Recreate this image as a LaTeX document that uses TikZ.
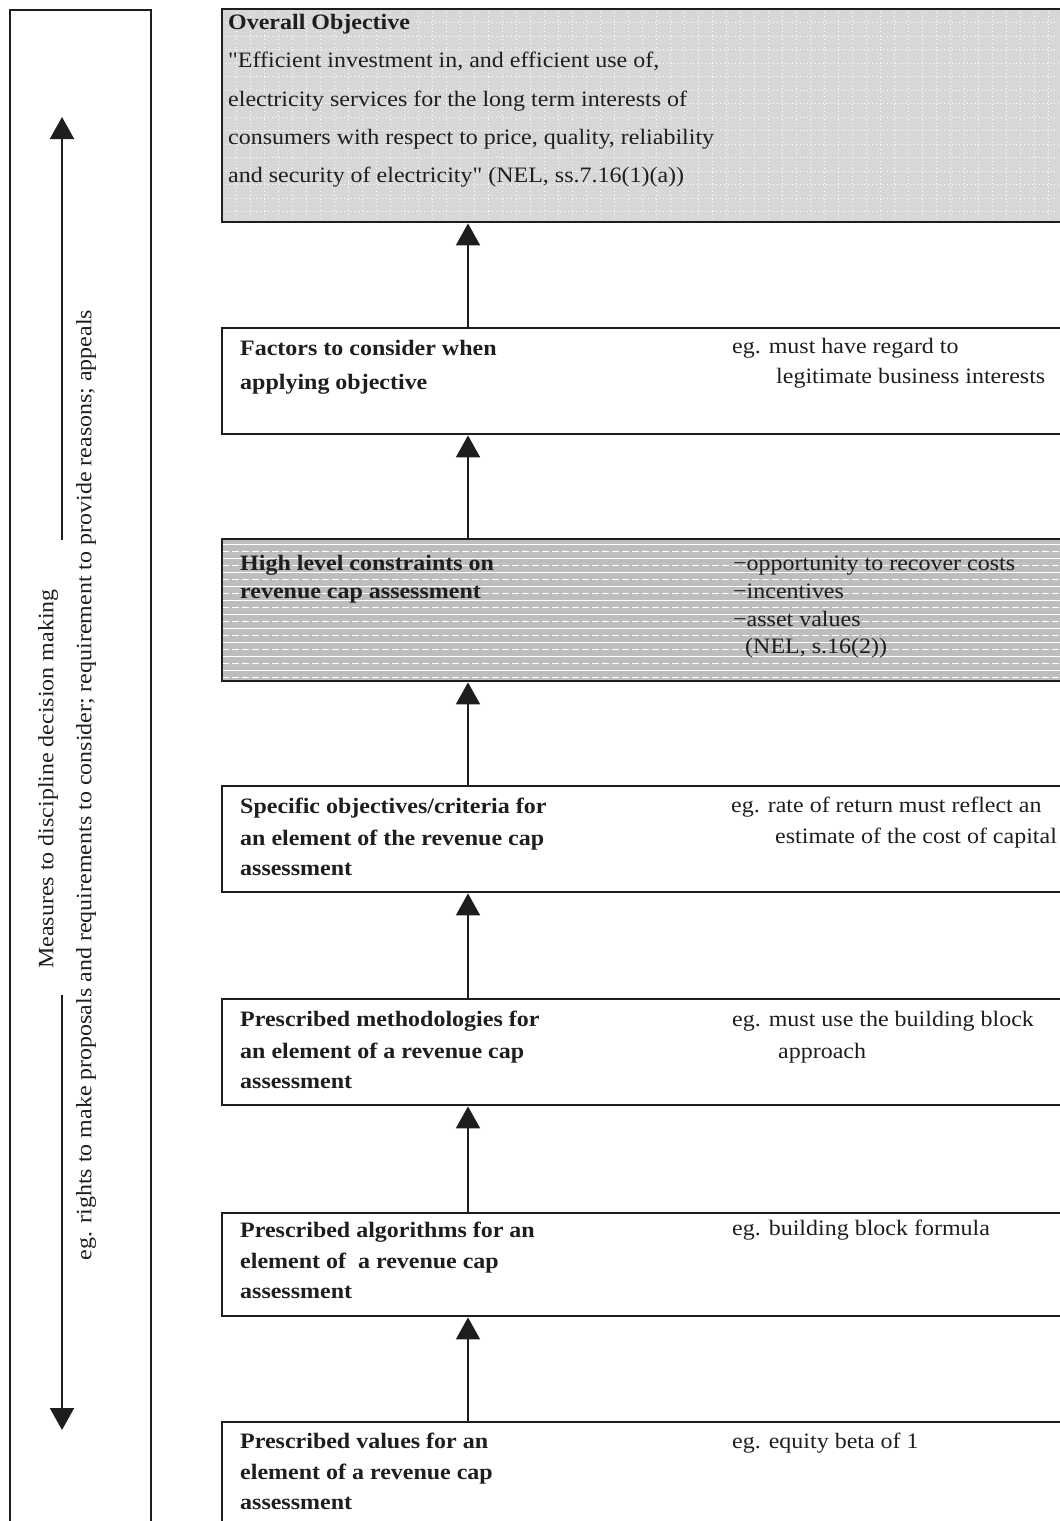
\documentclass[tikz,border=0pt]{standalone}
\usepackage{fontspec}
\setmainfont{Liberation Serif}[FakeStretch=1.09]
\newfontfamily\qfont{Liberation Serif}[FakeStretch=1.09, Ligatures=TeXOff]
\usetikzlibrary{arrows.meta}
\definecolor{ink}{HTML}{1E1E1E}
\definecolor{lightfill}{HTML}{D7D7D7}
\definecolor{midfill}{HTML}{BDBDBD}
\newcommand{\sq}{{\qfont"}}
\begin{document}
\begin{tikzpicture}[x=1pt,y=-1pt,
  every node/.style={font=\fontsize{22}{26}\selectfont, inner sep=0pt, text=ink},
  box/.style={draw=ink, line width=2.4pt, anchor=north west, minimum width=860pt},
  lbl/.style={anchor=base west},
  hd/.style={anchor=base west, font=\fontsize{22}{26}\selectfont\bfseries},
  arr/.style={draw=ink, line width=2pt, -{Triangle[width=24pt,length=22pt]}},
  ppdots/.style={path picture={
    \foreach \k in {1,...,62}{\draw[white, line width=0.6pt, dash pattern=on 0.8pt off 3pt]
      ([xshift=\k*14pt]path picture bounding box.south west) -- ([xshift=\k*14pt]path picture bounding box.north west);}
    \foreach \k in {1,...,16}{\draw[white, line width=0.6pt, dash pattern=on 0.8pt off 3pt]
      ([yshift=-\k*13.5pt]path picture bounding box.north west) -- ([yshift=-\k*13.5pt]path picture bounding box.north east);}
  }},
  pplines/.style={path picture={
    \foreach \k in {0,...,10}{\draw[white, line width=1.3pt]
      ([yshift=-\k*14pt-5pt]path picture bounding box.north west) -- ([yshift=-\k*14pt-5pt]path picture bounding box.north east);
      \draw[white, line width=1pt, dash pattern=on 7pt off 3pt]
      ([yshift=-\k*14pt-12pt]path picture bounding box.north west) -- ([yshift=-\k*14pt-12pt]path picture bounding box.north east);}
  }}]
\useasboundingbox (0,0) rectangle (1060,1521);
\clip (0,0) rectangle (1060,1521);

% left box with double arrow and rotated texts
\node[box, minimum width=141pt, minimum height=1540pt] (lb) at (9,9) {};
\coordinate (ut) at (62,117);
\coordinate (ug) at (62,540);
\coordinate (dg) at (62,995);
\coordinate (dt) at (62,1430);
\draw[arr] (ug) -- (ut);
\draw[arr] (dg) -- (dt);
\node[rotate=90] (m1) at (48,779) {Measures to discipline decision making};
\node[rotate=90] (m2) at (86,785) {eg. rights to make proposals and requirements to consider; requirement to provide reasons; appeals};

% boxes
\node[box, minimum height=213pt, fill=lightfill, ppdots] (b1) at (221,8) {};
\node[box, minimum height=106pt] (b2) at (221,327) {};
\node[box, minimum height=142pt, fill=midfill, pplines] (b3) at (221,538) {};
\node[box, minimum height=106pt] (b4) at (221,785) {};
\node[box, minimum height=106pt] (b5) at (221,998) {};
\node[box, minimum height=103pt] (b6) at (221,1212) {};
\node[box, minimum height=130pt] (b7) at (221,1421) {};

% connectors
\coordinate (ax) at (468,0);
\draw[arr] (ax |- b2.north) -- (ax |- b1.south);
\draw[arr] (ax |- b3.north) -- (ax |- b2.south);
\draw[arr] (ax |- b4.north) -- (ax |- b3.south);
\draw[arr] (ax |- b5.north) -- (ax |- b4.south);
\draw[arr] (ax |- b6.north) -- (ax |- b5.south);
\draw[arr] (ax |- b7.north) -- (ax |- b6.south);

% box 1 text
\node[hd] (t1a) at (228,29) {Overall Objective};
\node[lbl] (t1b) at (228,67) {\sq Efficient investment in, and efficient use of,};
\node[lbl] (t1c) at (228,106) {electricity services for the long term interests of};
\node[lbl] (t1d) at (228,144) {consumers with respect to price, quality, reliability};
\node[lbl] (t1e) at (228,182) {and security of electricity\sq\ (NEL, ss.7.16(1)(a))};

% box 2
\node[hd] (t2a) at (240,355) {Factors to consider when};
\node[hd] (t2b) at (240,389) {applying objective};
\node[lbl] (r2a) at (732,353) {eg. must have regard to};
\node[lbl] (r2b) at (776,383) {legitimate business interests};

% box 3
\node[hd] (t3a) at (240,570) {High level constraints on};
\node[hd] (t3b) at (240,598) {revenue cap assessment};
\node[lbl] (r3a) at (733,570) {−opportunity to recover costs};
\node[lbl] (r3b) at (733,598) {−incentives};
\node[lbl] (r3c) at (733,626) {−asset values};
\node[lbl] (r3d) at (745,653) {(NEL, s.16(2))};

% box 4
\node[hd] (t4a) at (240,813) {Specific objectives/criteria for};
\node[hd] (t4b) at (240,845) {an element of the revenue cap};
\node[hd] (t4c) at (240,875) {assessment};
\node[lbl] (r4a) at (731,812) {eg. rate of return must reflect an};
\node[lbl] (r4b) at (775,843) {estimate of the cost of capital};

% box 5
\node[hd] (t5a) at (240,1026) {Prescribed methodologies for};
\node[hd] (t5b) at (240,1058) {an element of a revenue cap};
\node[hd] (t5c) at (240,1088) {assessment};
\node[lbl] (r5a) at (732,1026) {eg. must use the building block};
\node[lbl] (r5b) at (778,1058) {approach};

% box 6
\node[hd] (t6a) at (240,1237) {Prescribed algorithms for an};
\node[hd] (t6b) at (240,1268) {element of\ \ a revenue cap};
\node[hd] (t6c) at (240,1298) {assessment};
\node[lbl] (r6a) at (732,1235) {eg. building block formula};

% box 7
\node[hd] (t7a) at (240,1448) {Prescribed values for an};
\node[hd] (t7b) at (240,1479) {element of a revenue cap};
\node[hd] (t7c) at (240,1509) {assessment};
\node[lbl] (r7a) at (732,1448) {eg. equity beta of 1};
\end{tikzpicture}
\end{document}
